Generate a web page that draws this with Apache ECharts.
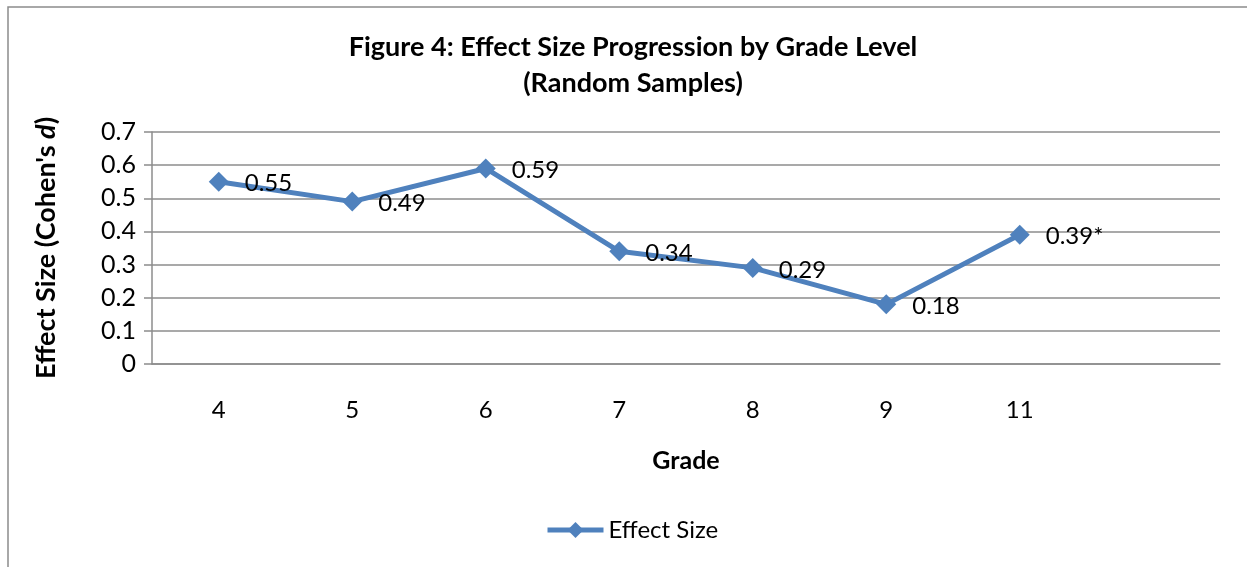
<!DOCTYPE html>
<html>
<head>
<meta charset="utf-8">
<script src="https://cdn.jsdelivr.net/npm/echarts@6/dist/echarts.min.js"></script>
<style>
html,body{margin:0;padding:0;background:#fff;}
#c{width:1247px;height:567px;}
</style>
</head>
<body>
<div id="c"></div>
<script>
const categories = ['4', '5', '6', '7', '8', '9', '11', ''];
const effectSize = [0.55, 0.49, 0.59, 0.34, 0.29, 0.18, 0.39, null];
const pointLabels = ['0.55', '0.49', '0.59', '0.34', '0.29', '0.18', '0.39*', ''];
const yTicks = { min: 0, max: 0.7, interval: 0.1 };

const FONT = 'Lato, "Open Sans", sans-serif';
const chart = echarts.init(document.getElementById('c'), null, { renderer: 'canvas' });
chart.setOption({
  animation: false,
  backgroundColor: '#fff',
  title: {
    text: 'Figure 4: Effect Size Progression by Grade Level\n(Random Samples)',
    left: 628, top: 24, textAlign: 'center',
    textStyle: { fontFamily: FONT, fontWeight: 'bold', fontSize: 27, color: '#000', lineHeight: 36 }
  },
  graphic: [{
    type: 'rect', silent: true, z: -1,
    shape: { x: 8, y: 7, width: 1260, height: 600 },
    style: { fill: 'none', stroke: '#8c8c8c', lineWidth: 1.5 }
  }],
  legend: {
    bottom: 20, left: 540,
    itemWidth: 56, itemHeight: 20, itemGap: 6,
    textStyle: { fontFamily: FONT, fontSize: 24, color: '#000' },
    lineStyle: { width: 5 },
    data: [{ name: 'Effect Size', lineStyle: { width: 5, color: '#4F81BD' } }]
  },
  grid: { left: 152, right: 27, top: 132, bottom: 203, containLabel: false },
  xAxis: {
    type: 'category', data: categories, boundaryGap: true,
    name: 'Grade', nameLocation: 'middle', nameGap: 84,
    nameTextStyle: { fontFamily: FONT, fontWeight: 'bold', fontSize: 25, color: '#000' },
    axisLine: { lineStyle: { color: '#8c8c8c', width: 1.5 } },
    axisTick: { show: false },
    axisLabel: { fontFamily: FONT, fontSize: 24, color: '#000', margin: 34 },
    splitLine: { show: false }
  },
  yAxis: {
    type: 'value', min: yTicks.min, max: yTicks.max, interval: yTicks.interval,
    name: "Effect Size (Cohen's {i|d})", nameLocation: 'middle', nameGap: 92, nameRotate: 90,
    nameTextStyle: { fontFamily: FONT, fontWeight: 'bold', fontSize: 27, color: '#000',
      rich: { i: { fontFamily: FONT, fontWeight: 'bold', fontStyle: 'italic', fontSize: 27, color: '#000' } } },
    axisLine: { show: true, lineStyle: { color: '#8c8c8c', width: 1.5 } },
    axisTick: { show: true, length: 8, lineStyle: { color: '#8c8c8c', width: 1.5 } },
    axisLabel: { fontFamily: FONT, fontSize: 25, color: '#000', margin: 16,
      formatter: v => (Math.round(v * 10) / 10).toString() },
    splitLine: { lineStyle: { color: '#8c8c8c', width: 1.5 } }
  },
  series: [{
    name: 'Effect Size', type: 'line', data: effectSize,
    symbol: 'diamond', symbolSize: 20,
    lineStyle: { color: '#4F81BD', width: 5 },
    itemStyle: { color: '#4F81BD' },
    label: {
      show: true, position: 'right', distance: 16, offset: [0, 2],
      fontFamily: FONT, fontSize: 24, color: '#000',
      formatter: p => pointLabels[p.dataIndex]
    }
  }]
});
</script>
</body>
</html>
